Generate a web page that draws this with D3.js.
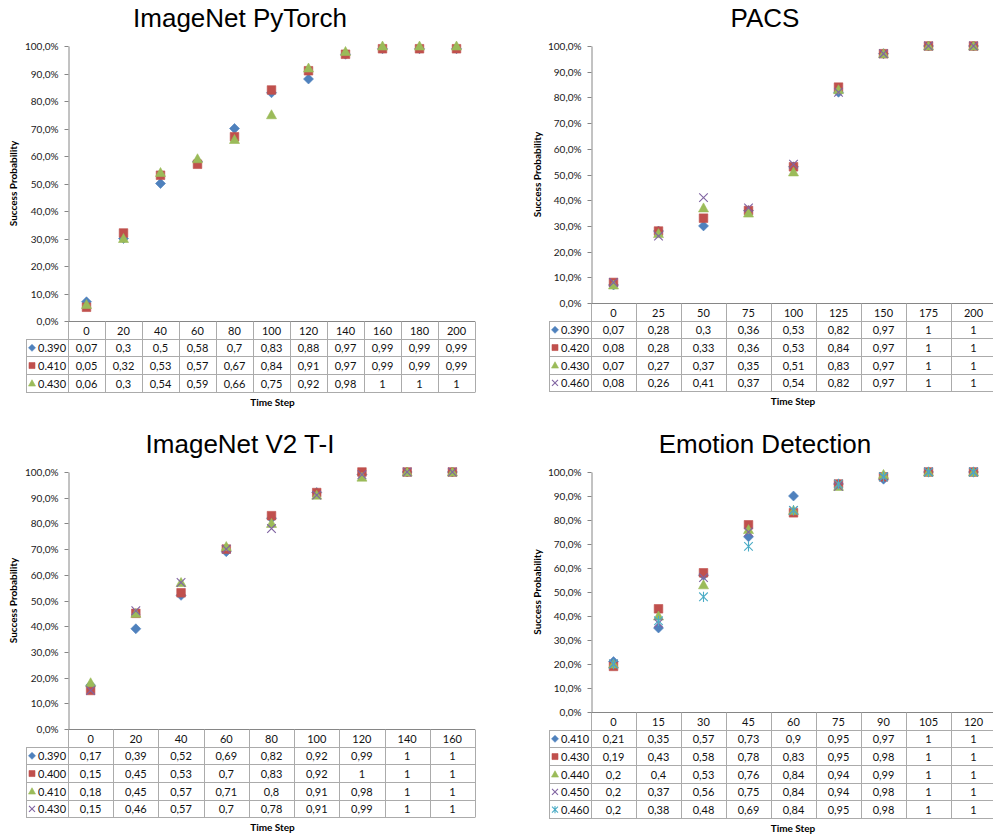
<!DOCTYPE html>
<html>
<head>
<meta charset="utf-8">
<script src="https://cdn.jsdelivr.net/npm/d3@7/dist/d3.min.js"></script>
<style>
  html, body { margin: 0; padding: 0; background: #fff; }
  svg { display: block; }
  .tick text { font-family: Lato, "Liberation Sans", sans-serif; font-size: 10px; fill: #1a1a1a; }
</style>
</head>
<body>
<svg id="chart" width="993" height="837"></svg>
<script>
// ---------------- DATA ----------------
const yTicks = [0, 0.1, 0.2, 0.3, 0.4, 0.5, 0.6, 0.7, 0.8, 0.9, 1.0];

// Panel 1: ImageNet PyTorch
const pytorchSteps  = [0, 20, 40, 60, 80, 100, 120, 140, 160, 180, 200];
const pytorchLabels = ["0.390", "0.410", "0.430"];
const pytorch390 = [0.07, 0.3, 0.5, 0.58, 0.7, 0.83, 0.88, 0.97, 0.99, 0.99, 0.99];
const pytorch410 = [0.05, 0.32, 0.53, 0.57, 0.67, 0.84, 0.91, 0.97, 0.99, 0.99, 0.99];
const pytorch430 = [0.06, 0.3, 0.54, 0.59, 0.66, 0.75, 0.92, 0.98, 1, 1, 1];

// Panel 2: PACS
const pacsSteps  = [0, 25, 50, 75, 100, 125, 150, 175, 200];
const pacsLabels = ["0.390", "0.420", "0.430", "0.460"];
const pacs390 = [0.07, 0.28, 0.3, 0.36, 0.53, 0.82, 0.97, 1, 1];
const pacs420 = [0.08, 0.28, 0.33, 0.36, 0.53, 0.84, 0.97, 1, 1];
const pacs430 = [0.07, 0.27, 0.37, 0.35, 0.51, 0.83, 0.97, 1, 1];
const pacs460 = [0.08, 0.26, 0.41, 0.37, 0.54, 0.82, 0.97, 1, 1];

// Panel 3: ImageNet V2 T-I
const v2Steps  = [0, 20, 40, 60, 80, 100, 120, 140, 160];
const v2Labels = ["0.390", "0.400", "0.410", "0.430"];
const v2390 = [0.17, 0.39, 0.52, 0.69, 0.82, 0.92, 0.99, 1, 1];
const v2400 = [0.15, 0.45, 0.53, 0.7, 0.83, 0.92, 1, 1, 1];
const v2410 = [0.18, 0.45, 0.57, 0.71, 0.8, 0.91, 0.98, 1, 1];
const v2430 = [0.15, 0.46, 0.57, 0.7, 0.78, 0.91, 0.99, 1, 1];

// Panel 4: Emotion Detection
const emoSteps  = [0, 15, 30, 45, 60, 75, 90, 105, 120];
const emoLabels = ["0.410", "0.430", "0.440", "0.450", "0.460"];
const emo410 = [0.21, 0.35, 0.57, 0.73, 0.9, 0.95, 0.97, 1, 1];
const emo430 = [0.19, 0.43, 0.58, 0.78, 0.83, 0.95, 0.98, 1, 1];
const emo440 = [0.2, 0.4, 0.53, 0.76, 0.84, 0.94, 0.99, 1, 1];
const emo450 = [0.2, 0.37, 0.56, 0.75, 0.84, 0.94, 0.98, 1, 1];
const emo460 = [0.2, 0.38, 0.48, 0.69, 0.84, 0.95, 0.98, 1, 1];

const titles = ["ImageNet PyTorch", "PACS", "ImageNet V2 T-I", "Emotion Detection"];

// ---------------- STYLE ----------------
const markerTypes  = ["diamond", "square", "triangle", "x", "star"];
const markerColors = ["#4F81BD", "#C0504D", "#9BBB59", "#8064A2", "#4BACC6"];
const gridColor = "#ABABAB";
const axisColor = "#868686";
const fontSans = "Lato, 'Liberation Sans', sans-serif";

const panels = [
  { title: titles[0], steps: pytorchSteps, labels: pytorchLabels, series: [pytorch390, pytorch410, pytorch430],
    left: 68, right: 475, top: 46, bottom: 321, tableLeft: 26, titleX: 240, titleY: 27, yLabelX: 13 },
  { title: titles[1], steps: pacsSteps, labels: pacsLabels, series: [pacs390, pacs420, pacs430, pacs460],
    left: 591, right: 996, top: 46, bottom: 303, tableLeft: 549, titleX: 765, titleY: 27, yLabelX: 537 },
  { title: titles[2], steps: v2Steps, labels: v2Labels, series: [v2390, v2400, v2410, v2430],
    left: 68, right: 475, top: 472, bottom: 729, tableLeft: 26, titleX: 240, titleY: 453, yLabelX: 13 },
  { title: titles[3], steps: emoSteps, labels: emoLabels, series: [emo410, emo430, emo440, emo450, emo460],
    left: 591, right: 996, top: 472, bottom: 712, tableLeft: 549, titleX: 765, titleY: 453, yLabelX: 537 }
];

const headerH = 17.5;
const rowH = 17.7;

function markerPath(type, cx, cy, s) {
  s = s || 1;
  if (type === "diamond") {
    const r = 5 * s;
    return `M${cx},${cy - r}L${cx + r},${cy}L${cx},${cy + r}L${cx - r},${cy}Z`;
  }
  if (type === "square") {
    const r = 4.3 * s;
    return `M${cx - r},${cy - r}H${cx + r}V${cy + r}H${cx - r}Z`;
  }
  if (type === "triangle") {
    const w = 5 * s, h1 = 5 * s, h2 = 4 * s;
    return `M${cx},${cy - h1}L${cx + w},${cy + h2}L${cx - w},${cy + h2}Z`;
  }
  if (type === "x") {
    const r = 4.3 * s;
    return `M${cx - r},${cy - r}L${cx + r},${cy + r}M${cx - r},${cy + r}L${cx + r},${cy - r}`;
  }
  // star: x plus vertical
  const r = 4.3 * s;
  return `M${cx - r},${cy - r}L${cx + r},${cy + r}M${cx - r},${cy + r}L${cx + r},${cy - r}M${cx},${cy - r * 1.2}L${cx},${cy + r * 1.2}`;
}

function drawMarker(g, type, color, cx, cy, s) {
  const filled = (type === "diamond" || type === "square" || type === "triangle");
  g.append("path")
    .attr("d", markerPath(type, cx, cy, s))
    .attr("fill", filled ? color : "none")
    .attr("stroke", color)
    .attr("stroke-width", filled ? 0.6 : 1.1);
}

const fmt = v => String(v).replace(".", ",");
const pct = d => (d * 100).toFixed(1).replace(".", ",") + "%";
const px = v => Math.round(v) + 0.5;

const svg = d3.select("#chart");

panels.forEach(p => {
  const g = svg.append("g");
  const x = d3.scaleBand().domain(p.steps).range([p.left, p.right]).padding(0);
  const y = d3.scaleLinear().domain([0, 1]).range([p.bottom, p.top]);
  const bw = x.bandwidth();

  // Title
  g.append("text")
    .attr("x", p.titleX).attr("y", p.titleY)
    .attr("text-anchor", "middle")
    .style("font-family", "'Liberation Sans', Arial, sans-serif")
    .style("font-size", "26px")
    .attr("fill", "#000")
    .text(p.title);

  // Y axis
  const yAxis = d3.axisLeft(y).tickValues(yTicks).tickFormat(pct).tickSize(4).tickSizeOuter(0).tickPadding(6);
  const ga = g.append("g").attr("transform", `translate(${px(p.left)},0)`).call(yAxis);
  ga.select(".domain").attr("stroke", axisColor);
  ga.selectAll(".tick line").attr("stroke", axisColor);
  ga.selectAll(".tick").attr("transform", d => `translate(0,${px(y(d))})`);

  // Y axis label
  g.append("text")
    .attr("transform", `translate(${p.yLabelX + 4},${(p.top + p.bottom) / 2}) rotate(-90)`)
    .attr("text-anchor", "middle")
    .style("font-family", fontSans)
    .style("font-size", "10px")
    .style("font-weight", "bold")
    .attr("fill", "#000")
    .text("Success Probability");

  // Data table
  const tb = g.append("g").attr("class", "table");
  const headTop = p.bottom;
  const bodyTop = p.bottom + headerH;
  const nRows = p.series.length;
  const bodyBottom = bodyTop + nRows * rowH;

  const line = (x1, y1, x2, y2) => tb.append("line")
    .attr("x1", x1).attr("y1", y1).attr("x2", x2).attr("y2", y2)
    .attr("stroke", gridColor).attr("stroke-width", 1);

  // horizontal lines
  line(p.left, px(headTop), p.right, px(headTop)).attr("stroke", axisColor);
  line(p.tableLeft, px(bodyTop), p.right, px(bodyTop));
  for (let j = 1; j < nRows; j++) line(p.tableLeft, px(bodyTop + j * rowH), p.right, px(bodyTop + j * rowH));
  line(p.tableLeft, px(bodyBottom), p.right, px(bodyBottom));
  // vertical lines
  line(px(p.tableLeft), px(bodyTop), px(p.tableLeft), px(bodyBottom));
  p.steps.forEach(s => line(px(x(s)), px(headTop), px(x(s)), px(bodyBottom)));
  line(px(p.right), px(headTop), px(p.right), px(bodyBottom));

  const cellText = (tx, ty, t, anchor) => tb.append("text")
    .attr("x", tx).attr("y", ty)
    .attr("text-anchor", anchor || "middle")
    .attr("dominant-baseline", "central")
    .style("font-family", fontSans)
    .style("font-size", "11px")
    .attr("fill", "#111")
    .text(t);

  // header
  p.steps.forEach(s => cellText(x(s) + bw / 2, headTop + headerH / 2 + 0.5, String(s)));
  // rows
  p.series.forEach((vals, j) => {
    const cy = bodyTop + j * rowH + rowH / 2 + 0.5;
    drawMarker(tb, markerTypes[j], markerColors[j], p.tableLeft + 6, cy, 0.7);
    cellText(p.tableLeft + 12, cy, p.labels[j], "start");
    vals.forEach((v, i) => cellText(x(p.steps[i]) + bw / 2, cy, fmt(v)));
  });

  // X title
  g.append("text")
    .attr("x", (p.left + Math.min(p.right, 993)) / 2 + 1)
    .attr("y", bodyBottom + 14)
    .attr("text-anchor", "middle")
    .style("font-family", fontSans)
    .style("font-size", "10px")
    .style("font-weight", "bold")
    .attr("fill", "#000")
    .text("Time Step");

  // Markers
  const mg = g.append("g");
  p.series.forEach((vals, j) => {
    vals.forEach((v, i) => {
      drawMarker(mg, markerTypes[j], markerColors[j], x(p.steps[i]) + bw / 2, y(v), 1);
    });
  });
});
</script>
</body>
</html>
